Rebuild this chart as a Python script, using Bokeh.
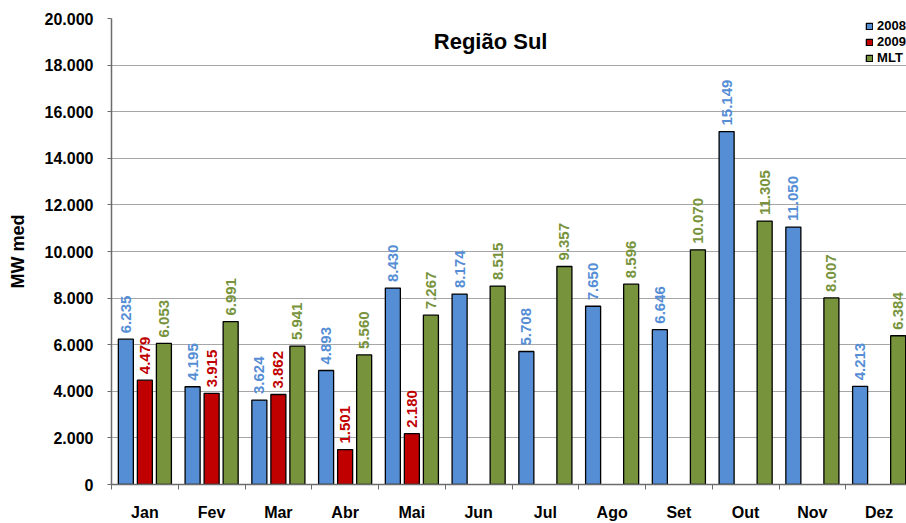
import math
from bokeh.plotting import figure
from bokeh.models import ColumnDataSource, FixedTicker, Range1d, Label, Legend, LegendItem
from bokeh.transform import dodge
from bokeh.core.properties import value
from bokeh.embed import file_html
from bokeh.resources import INLINE

months = ["Jan", "Fev", "Mar", "Abr", "Mai", "Jun", "Jul", "Ago", "Set", "Out", "Nov", "Dez"]
v2008 = [6235, 4195, 3624, 4893, 8430, 8174, 5708, 7650, 6646, 15149, 11050, 4213]
v2009 = [4479, 3915, 3862, 1501, 2180, None, None, None, None, None, None, None]
mlt = [6053, 6991, 5941, 5560, 7267, 8515, 9357, 8596, 10070, 11305, 8007, 6384]
y_ticks = [0, 2000, 4000, 6000, 8000, 10000, 12000, 14000, 16000, 18000, 20000]

C_BLUE = "#558ED5"
C_RED = "#C00000"
C_GREEN = "#77933C"
FONT = "Liberation Sans"


def fmt(v):
    return f"{v:,}".replace(",", ".")


xc = [i + 0.5 for i in range(len(months))]

p = figure(frame_width=795, frame_height=466, min_border_left=111, min_border_top=18,
           min_border_right=0, min_border_bottom=39,
           x_range=Range1d(0, 11.91), y_range=Range1d(0, 20000),
           output_backend="svg", toolbar_location=None)
p.outline_line_color = None
p.background_fill_color = "white"
p.border_fill_color = "white"

# grid
p.xgrid.grid_line_color = None
p.ygrid.grid_line_color = "#a6a6a6"
p.ygrid.grid_line_width = 1
p.ygrid.ticker = FixedTicker(ticks=y_ticks)

# y axis
p.yaxis.ticker = FixedTicker(ticks=y_ticks)
p.yaxis.major_label_overrides = {t: fmt(t) for t in y_ticks}
p.yaxis.major_label_text_font = FONT
p.yaxis.major_label_text_font_style = "bold"
p.yaxis.major_label_text_font_size = "16px"
p.yaxis.major_label_text_color = "black"
p.yaxis.major_tick_in = 0
p.yaxis.major_tick_out = 4
p.yaxis.minor_tick_line_color = None
p.yaxis.major_label_standoff = 14
p.yaxis.axis_line_color = "#6b6b6b"
p.yaxis.axis_line_width = 1.5
p.yaxis.major_tick_line_color = "#6b6b6b"
p.yaxis.axis_label = "MW med"
p.yaxis.axis_label_text_font = FONT
p.yaxis.axis_label_text_font_style = "bold"
p.yaxis.axis_label_text_font_size = "18px"
p.yaxis.axis_label_text_color = "black"
p.yaxis.axis_label_standoff = 14

# x axis
p.xaxis.ticker = FixedTicker(ticks=xc, minor_ticks=list(range(len(months) + 1)))
p.xaxis.major_label_overrides = {c: m for c, m in zip(xc, months)}
p.xaxis.major_label_text_font = FONT
p.xaxis.major_label_text_font_style = "bold"
p.xaxis.major_label_text_font_size = "16px"
p.xaxis.major_label_text_color = "black"
p.xaxis.major_tick_in = 0
p.xaxis.major_tick_out = 0
p.xaxis.minor_tick_in = 0
p.xaxis.minor_tick_out = 5
p.xaxis.minor_tick_line_color = "#6b6b6b"
p.xaxis.major_label_standoff = 14
p.xaxis.axis_line_color = "#6b6b6b"
p.xaxis.axis_line_width = 1.5

series = [("2008", v2008, C_BLUE, -0.285),
          ("2009", v2009, C_RED, 0.0),
          ("MLT", mlt, C_GREEN, 0.285)]

items = []
for name, vals, col, off in series:
    xs = [x for x, v in zip(xc, vals) if v is not None]
    ys = [v for v in vals if v is not None]
    src = ColumnDataSource(dict(x=xs, y=ys, lab=[fmt(v) for v in ys]))
    r = p.vbar(x=dodge("x", off, range=p.x_range), top="y", width=0.225, source=src,
               fill_color=col, line_color="black", line_width=1.3)
    items.append(LegendItem(label=name, renderers=[r]))
    p.text(x=dodge("x", off, range=p.x_range), y="y", text="lab", source=src,
           angle=math.pi / 2, text_align="left", text_baseline="middle",
           y_offset=-6, text_color=col, text_font=value(FONT),
           text_font_size="15px", text_font_style="bold")

legend = Legend(items=items, location="top_right", margin=0, padding=5,
                spacing=1, label_height=14, glyph_height=8, glyph_width=8,
                label_standoff=4, label_text_font=FONT, label_text_font_style="bold",
                label_text_font_size="13px", label_text_color="black",
                border_line_color=None, background_fill_alpha=0)
p.add_layout(legend)

title = Label(x=5.68, y=19000, text="Região Sul", text_align="center",
              text_baseline="alphabetic", text_font=FONT, text_font_style="bold",
              text_font_size="22px", text_color="black")
p.add_layout(title)

open("out.html", "w").write(file_html(p, INLINE))
